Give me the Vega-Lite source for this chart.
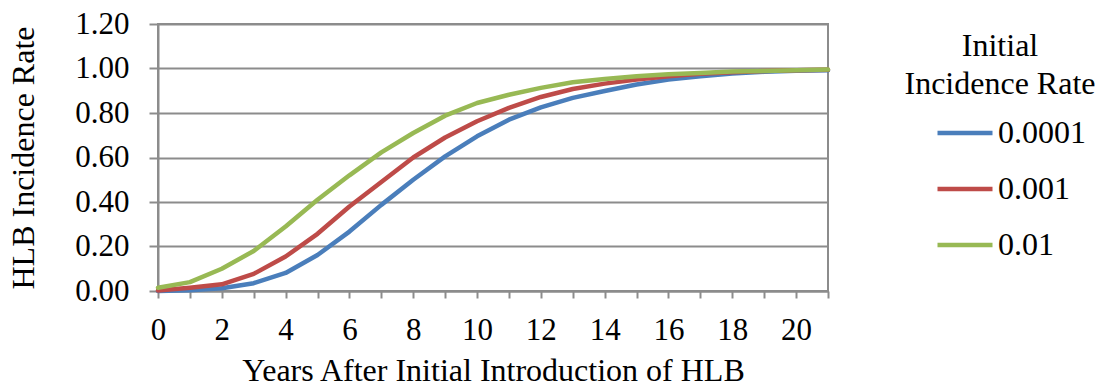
{
  "$schema": "https://vega.github.io/schema/vega-lite/v6.json",
  "autosize": "none",
  "width": 670,
  "height": 267,
  "padding": {"left": 158, "top": 24, "right": 269, "bottom": 95},
  "background": "white",
  "config": {
    "font": "Liberation Serif",
    "view": {"stroke": "#8c8c8c", "strokeWidth": 2},
    "axis": {
      "labelFont": "Liberation Serif",
      "titleFont": "Liberation Serif",
      "labelFontSize": 31,
      "titleFontSize": 32,
      "labelColor": "black",
      "titleColor": "black",
      "titleFontWeight": "normal",
      "domainColor": "#8c8c8c",
      "domainWidth": 2,
      "tickColor": "#8c8c8c",
      "tickWidth": 2,
      "gridColor": "#8c8c8c",
      "gridWidth": 2
    },
    "legend": {
      "labelFont": "Liberation Serif",
      "titleFont": "Liberation Serif",
      "labelFontSize": 32,
      "titleFontSize": 32,
      "titleFontWeight": "normal",
      "labelColor": "black",
      "titleColor": "black"
    }
  },
  "data": {
    "values": [
      {"year": 0, "rate": "0.0001", "incidence": 0.0},
      {"year": 1, "rate": "0.0001", "incidence": 0.003},
      {"year": 2, "rate": "0.0001", "incidence": 0.012},
      {"year": 3, "rate": "0.0001", "incidence": 0.035},
      {"year": 4, "rate": "0.0001", "incidence": 0.081},
      {"year": 5, "rate": "0.0001", "incidence": 0.162},
      {"year": 6, "rate": "0.0001", "incidence": 0.267},
      {"year": 7, "rate": "0.0001", "incidence": 0.387},
      {"year": 8, "rate": "0.0001", "incidence": 0.5},
      {"year": 9, "rate": "0.0001", "incidence": 0.605},
      {"year": 10, "rate": "0.0001", "incidence": 0.695},
      {"year": 11, "rate": "0.0001", "incidence": 0.77},
      {"year": 12, "rate": "0.0001", "incidence": 0.825},
      {"year": 13, "rate": "0.0001", "incidence": 0.868},
      {"year": 14, "rate": "0.0001", "incidence": 0.899},
      {"year": 15, "rate": "0.0001", "incidence": 0.928},
      {"year": 16, "rate": "0.0001", "incidence": 0.95},
      {"year": 17, "rate": "0.0001", "incidence": 0.965},
      {"year": 18, "rate": "0.0001", "incidence": 0.977},
      {"year": 19, "rate": "0.0001", "incidence": 0.985},
      {"year": 20, "rate": "0.0001", "incidence": 0.99},
      {"year": 21, "rate": "0.0001", "incidence": 0.992},
      {"year": 0, "rate": "0.001", "incidence": 0.002},
      {"year": 1, "rate": "0.001", "incidence": 0.015},
      {"year": 2, "rate": "0.001", "incidence": 0.03},
      {"year": 3, "rate": "0.001", "incidence": 0.077},
      {"year": 4, "rate": "0.001", "incidence": 0.155},
      {"year": 5, "rate": "0.001", "incidence": 0.257},
      {"year": 6, "rate": "0.001", "incidence": 0.38},
      {"year": 7, "rate": "0.001", "incidence": 0.49},
      {"year": 8, "rate": "0.001", "incidence": 0.6},
      {"year": 9, "rate": "0.001", "incidence": 0.69},
      {"year": 10, "rate": "0.001", "incidence": 0.763},
      {"year": 11, "rate": "0.001", "incidence": 0.823},
      {"year": 12, "rate": "0.001", "incidence": 0.872},
      {"year": 13, "rate": "0.001", "incidence": 0.908},
      {"year": 14, "rate": "0.001", "incidence": 0.932},
      {"year": 15, "rate": "0.001", "incidence": 0.95},
      {"year": 16, "rate": "0.001", "incidence": 0.965},
      {"year": 17, "rate": "0.001", "incidence": 0.976},
      {"year": 18, "rate": "0.001", "incidence": 0.983},
      {"year": 19, "rate": "0.001", "incidence": 0.989},
      {"year": 20, "rate": "0.001", "incidence": 0.992},
      {"year": 21, "rate": "0.001", "incidence": 0.994},
      {"year": 0, "rate": "0.01", "incidence": 0.015},
      {"year": 1, "rate": "0.01", "incidence": 0.04},
      {"year": 2, "rate": "0.01", "incidence": 0.1},
      {"year": 3, "rate": "0.01", "incidence": 0.18},
      {"year": 4, "rate": "0.01", "incidence": 0.29},
      {"year": 5, "rate": "0.01", "incidence": 0.41},
      {"year": 6, "rate": "0.01", "incidence": 0.52},
      {"year": 7, "rate": "0.01", "incidence": 0.623},
      {"year": 8, "rate": "0.01", "incidence": 0.71},
      {"year": 9, "rate": "0.01", "incidence": 0.788},
      {"year": 10, "rate": "0.01", "incidence": 0.845},
      {"year": 11, "rate": "0.01", "incidence": 0.882},
      {"year": 12, "rate": "0.01", "incidence": 0.913},
      {"year": 13, "rate": "0.01", "incidence": 0.938},
      {"year": 14, "rate": "0.01", "incidence": 0.953},
      {"year": 15, "rate": "0.01", "incidence": 0.965},
      {"year": 16, "rate": "0.01", "incidence": 0.974},
      {"year": 17, "rate": "0.01", "incidence": 0.98},
      {"year": 18, "rate": "0.01", "incidence": 0.986},
      {"year": 19, "rate": "0.01", "incidence": 0.989},
      {"year": 20, "rate": "0.01", "incidence": 0.992},
      {"year": 21, "rate": "0.01", "incidence": 0.995}
    ]
  },
  "mark": {"type": "line", "strokeWidth": 4.5, "strokeCap": "round", "strokeJoin": "round"},
  "encoding": {
    "x": {
      "field": "year",
      "type": "quantitative",
      "scale": {"domain": [0, 21], "nice": false, "zero": false},
      "axis": {
        "title": "Years After Initial Introduction of HLB",
        "values": [0, 1, 2, 3, 4, 5, 6, 7, 8, 9, 10, 11, 12, 13, 14, 15, 16, 17, 18, 19, 20, 21],
        "labelExpr": "datum.value % 2 === 0 ? datum.label : ''",
        "grid": false,
        "tickSize": 7,
        "labelPadding": 17,
        "titlePadding": 10,
        "labelFlush": false,
        "labelOverlap": false
      }
    },
    "y": {
      "field": "incidence",
      "type": "quantitative",
      "scale": {"domain": [0, 1.2], "nice": false},
      "axis": {
        "title": "HLB Incidence Rate",
        "values": [0, 0.2, 0.4, 0.6, 0.8, 1.0, 1.2],
        "format": ".2f",
        "tickSize": 9,
        "labelPadding": 20,
        "titlePadding": 34,
        "labelOverlap": false
      }
    },
    "color": {
      "field": "rate",
      "type": "nominal",
      "scale": {"domain": ["0.0001", "0.001", "0.01"], "range": ["#4a7ebb", "#be4b48", "#98b954"]},
      "legend": {
        "title": ["Initial", "Incidence Rate"],
        "orient": "none",
        "legendX": 747,
        "legendY": 7,
        "padding": 0,
        "titleAnchor": "middle",
        "titleAlign": "center",
        "titleLimit": 400,
        "titleLineHeight": 38,
        "titlePadding": 2,
        "symbolType": "stroke",
        "symbolSize": 3025,
        "symbolStrokeWidth": 4.5,
        "symbolOffset": 21,
        "labelOffset": 3,
        "rowPadding": 10
      }
    }
  }
}
